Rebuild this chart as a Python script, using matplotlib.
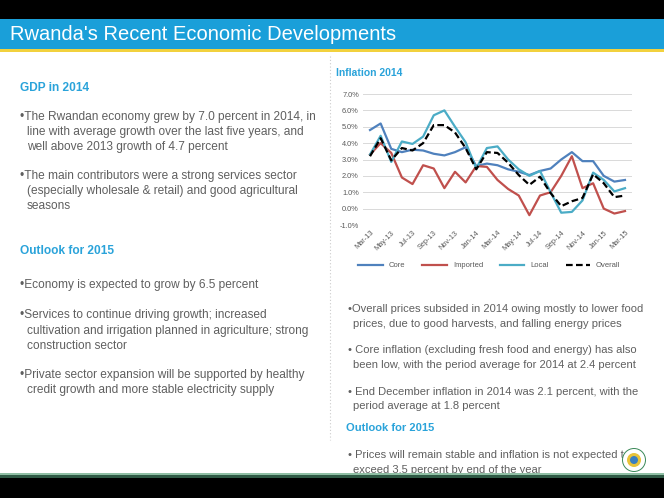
import matplotlib
matplotlib.use("Agg")
import matplotlib.pyplot as plt
from matplotlib.patches import Rectangle, Ellipse
from matplotlib.lines import Line2D

plt.rcParams['font.family'] = ['Liberation Sans', 'DejaVu Sans']

# monthly inflation, Mar-13 .. Mar-15 (percent)
months = ['Mar-13', 'Apr-13', 'May-13', 'Jun-13', 'Jul-13', 'Aug-13', 'Sep-13',
          'Oct-13', 'Nov-13', 'Dec-13', 'Jan-14', 'Feb-14', 'Mar-14', 'Apr-14',
          'May-14', 'Jun-14', 'Jul-14', 'Aug-14', 'Sep-14', 'Oct-14', 'Nov-14',
          'Dec-14', 'Jan-15', 'Feb-15', 'Mar-15']
core = [4.8, 5.2, 3.65, 3.45, 3.6, 3.55, 3.35, 3.25, 3.45, 3.75, 2.6, 2.75, 2.65,
        2.4, 2.25, 2.05, 2.3, 2.45, 3.0, 3.45, 2.9, 2.9, 2.0, 1.65, 1.75]
imported = [3.3, 4.0, 3.4, 1.9, 1.5, 2.65, 2.45, 1.25, 2.25, 1.6, 2.6, 2.55, 1.75,
            1.2, 0.8, -0.4, 0.8, 1.0, 2.0, 3.2, 1.25, 1.55, 0.0, -0.3, -0.15]
local = [3.3, 4.45, 2.85, 4.1, 3.95, 4.4, 5.7, 6.0, 5.0, 4.05, 2.45, 3.7, 3.8,
         3.0, 2.4, 2.0, 2.3, 1.0, -0.25, -0.2, 0.5, 2.2, 1.75, 1.05, 1.25]
overall = [3.2, 4.3, 2.95, 3.7, 3.55, 4.0, 5.1, 5.1, 4.65, 3.7, 2.4, 3.45, 3.4,
           2.8, 2.05, 1.45, 1.95, 0.95, 0.15, 0.45, 0.65, 2.1, 1.55, 0.7, 0.8]
yticks = [-1, 0, 1, 2, 3, 4, 5, 6, 7]

W, H = 664, 498
fig = plt.figure(figsize=(W / 100, H / 100), dpi=100)


def P(x, y):
    return x / W, 1 - y / H


def box(x, y, w, h, color, z=5):
    fig.patches.append(Rectangle(P(x, y + h), w / W, h / H, transform=fig.transFigure,
                                 facecolor=color, edgecolor='none', zorder=z))


# header / footer bars
box(0, 0, W, 19, 'black')
box(0, 19, W, 30, '#1a9fd9')
box(0, 49, W, 3, '#f2d13d')
box(0, 473, W, 2, '#8fbfa4', z=6)
box(0, 475, W, 3, '#2f5a45', z=6)
box(0, 478, W, 20, 'black', z=6)

fig.text(*P(10, 34), "Rwanda's Recent Economic Developments", color='white',
         fontsize=14.5, va='center', ha='left', zorder=10)

# dotted separator
fig.lines.append(Line2D([330 / W, 330 / W], [1 - 56 / H, 1 - 440 / H], transform=fig.transFigure,
                        color='#cccccc', lw=0.8, ls=(0, (1, 2))))

blue = '#2aa3da'
grey = '#5f5f5f'
fs = 8.6


def txt(x, y, s, **kw):
    fig.text(*P(x, y), s, va='center', ha='left', fontsize=kw.pop('fontsize', fs),
             color=kw.pop('color', grey), zorder=3, **kw)


txt(20, 88, 'GDP in 2014', color=blue, weight='bold')
txt(20, 117, '•The Rwandan economy grew by 7.0 percent in 2014, in')
txt(27, 132, 'line with average growth over the last five years, and')
txt(27, 147, 'well above 2013 growth of 4.7 percent')
txt(20, 176, '•The main contributors were a strong services sector')
txt(27, 191, '(especially wholesale & retail) and good agricultural')
txt(27, 206, 'seasons')

txt(20, 251, 'Outlook for 2015', color=blue, weight='bold')
txt(20, 285, '•Economy is expected to grow by 6.5 percent')
txt(20, 315, '•Services to continue driving growth; increased')
txt(27, 331, 'cultivation and irrigation planned in agriculture; strong')
txt(27, 346, 'construction sector')
txt(20, 375, '•Private sector expansion will be supported by healthy')
txt(27, 390, 'credit growth and more stable electricity supply')

txt(336, 73, 'Inflation 2014', color=blue, weight='bold', fontsize=7.5)
txt(348, 309, '•Overall prices subsided in 2014 owing mostly to lower food', fontsize=8)
txt(353, 324, 'prices, due to good harvests, and falling energy prices', fontsize=8)
txt(348, 350, '• Core inflation (excluding fresh food and energy) has also', fontsize=8)
txt(353, 365, 'been low, with the period average for 2014 at 2.4 percent', fontsize=8)
txt(348, 392, '• End December inflation in 2014 was 2.1 percent, with the', fontsize=8)
txt(353, 406, 'period average at 1.8 percent', fontsize=8)
txt(346, 428, 'Outlook for 2015', color=blue, weight='bold', fontsize=8)
txt(348, 455, '• Prices will remain stable and inflation is not expected to', fontsize=8)
txt(353, 470, 'exceed 3.5 percent by end of the year', fontsize=8)

# small emblem
for r, c in [(12, '#3d8a5a'), (11, 'white'), (7, '#e8c33a'), (4, '#3a7fc1')]:
    fig.patches.append(Ellipse(P(634, 460), 2 * r / W, 2 * r / H, transform=fig.transFigure,
                               facecolor=c, edgecolor='none', zorder=4))

# chart
ax = fig.add_axes([363 / W, 1 - 225 / H, 269 / W, 131 / H])
x = range(len(months))
ax.plot(x, core, color='#4f81bd', lw=1.6, label='Core')
ax.plot(x, imported, color='#c0504d', lw=1.6, label='Imported')
ax.plot(x, local, color='#4bacc6', lw=1.6, label='Local')
ax.plot(x, overall, color='black', lw=1.6, ls=(0, (3, 1.5)), label='Overall')
ax.set_xlim(-0.66, len(months) - 1 + 0.66)
ax.set_ylim(-1, 7)
ax.set_yticks(yticks)
ax.set_yticklabels([f'{v:.1f}%' for v in yticks])
ax.set_xticks(list(x)[::2])
ax.set_xticklabels(months[::2], rotation=45, ha='right', rotation_mode='anchor')
ax.tick_params(length=0, labelsize=5.3, colors='#595959', pad=3)
ax.grid(axis='y', color='#d9d9d9', lw=0.7)
ax.set_axisbelow(True)
for s in ax.spines.values():
    s.set_visible(False)
ax.legend(loc='center', bbox_to_anchor=(0.47, -0.31), ncol=4, frameon=False,
          fontsize=5.5, handlelength=3.2, columnspacing=2.2, labelcolor='#595959')

fig.savefig('out.png', dpi=100)
